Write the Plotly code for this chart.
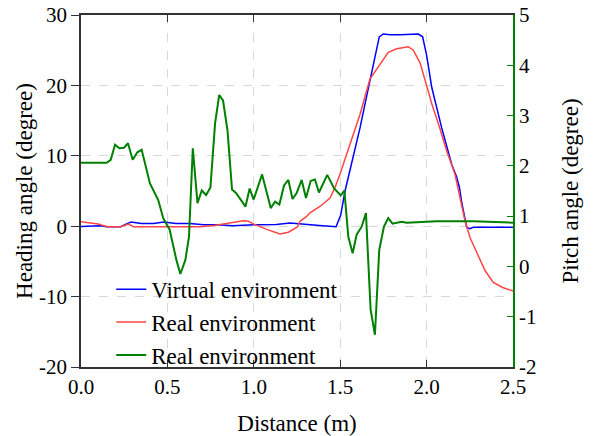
import plotly.graph_objects as go

# Heading angle (degree) vs distance (m)
virtual_x = [0.0, 0.11, 0.15, 0.23, 0.26, 0.29, 0.35, 0.42, 0.48, 0.55, 0.63, 0.71, 0.79, 0.88,
             1.0, 1.13, 1.21, 1.31, 1.38, 1.476, 1.503, 1.528, 1.557, 1.586, 1.615, 1.644, 1.672,
             1.701, 1.726, 1.749, 1.788, 1.846, 1.904, 1.952, 1.977, 2.0, 2.03, 2.058, 2.087,
             2.116, 2.145, 2.174, 2.19, 2.203, 2.222, 2.232, 2.251, 2.27, 2.5]
virtual_heading = [-0.05, 0.07, -0.07, -0.07, 0.3, 0.6, 0.4, 0.4, 0.6, 0.4, 0.4, 0.2, 0.2, 0.07,
                   0.2, 0.25, 0.45, 0.3, 0.1, -0.07, 1.6, 5.0, 7.9, 11.0, 14.0, 17.4, 20.7,
                   24.0, 26.9, 27.3, 27.2, 27.2, 27.3, 27.3, 26.9, 24.3, 19.7, 16.7, 14.0,
                   11.4, 8.8, 7.0, 5.5, 3.4, 0.9, -0.17, -0.35, -0.15, -0.15]

real_x = [0.0, 0.1, 0.15, 0.23, 0.274, 0.303, 0.5, 0.69, 0.77, 0.84, 0.94, 0.97, 1.0, 1.075,
          1.152, 1.2, 1.25, 1.267, 1.306, 1.325, 1.383, 1.441, 1.47, 1.499, 1.557, 1.615, 1.672,
          1.73, 1.778, 1.827, 1.894, 1.923, 1.962, 2.0, 2.03, 2.078, 2.116, 2.164, 2.193, 2.222,
          2.251, 2.29, 2.338, 2.386, 2.44, 2.5]
real_heading = [0.65, 0.3, -0.07, -0.07, 0.3, -0.07, -0.07, -0.07, 0.1, 0.35, 0.78, 0.7, 0.3, -0.45,
                -1.1, -0.85, -0.15, 0.7, 1.4, 1.9, 2.8, 4.0, 5.5, 7.4, 11.7, 15.9, 20.9,
                23.0, 24.7, 25.2, 25.5, 25.0, 23.2, 20.0, 17.4, 13.8, 10.7, 7.4, 4.1, 0.8,
                -1.6, -3.8, -6.3, -8.0, -8.7, -9.2]

# Pitch angle (degree) vs distance (m)
pitch_x = [0.0, 0.149, 0.172, 0.197, 0.222, 0.249, 0.272, 0.299, 0.326, 0.351, 0.399, 0.447,
           0.476, 0.513, 0.552, 0.575, 0.604, 0.625, 0.647, 0.674, 0.699, 0.724, 0.749, 0.776,
           0.800, 0.822, 0.848, 0.874, 0.897, 0.952, 0.976, 0.999, 1.048, 1.098, 1.123, 1.148,
           1.175, 1.200, 1.224, 1.248, 1.277, 1.302, 1.329, 1.354, 1.377, 1.425, 1.465, 1.503,
           1.524, 1.547, 1.572, 1.595, 1.624, 1.649, 1.676, 1.701, 1.726, 1.753, 1.778, 1.803,
           1.855, 1.885, 2.058, 2.27, 2.5]
real_pitch = [2.06, 2.06, 2.12, 2.42, 2.35, 2.36, 2.45, 2.12, 2.27, 2.32, 1.65, 1.32,
              0.96, 0.73, 0.13, -0.15, 0.13, 0.59, 2.35, 1.26, 1.51, 1.42, 1.57, 2.85,
              3.41, 3.30, 2.70, 1.53, 1.46, 1.19, 1.55, 1.33, 1.83, 1.16, 1.29, 1.23,
              1.61, 1.72, 1.34, 1.46, 1.72, 1.36, 1.70, 1.73, 1.47, 1.82, 1.55, 1.41,
              1.51, 0.59, 0.26, 0.63, 0.79, 1.06, -0.86, -1.36, 0.33, 0.79, 0.96, 0.85,
              0.89, 0.87, 0.90, 0.90, 0.87]

# Tick values and labels (plain hyphen for negatives)
heading_ticks = [-20, -10, 0, 10, 20, 30]
heading_labels = ["-20", "-10", "0", "10", "20", "30"]
pitch_ticks = [-2, -1, 0, 1, 2, 3, 4, 5]
pitch_labels = ["-2", "-1", "0", "1", "2", "3", "4", "5"]

FONT = "Liberation Serif, Times New Roman, serif"

fig = go.Figure()
fig.add_trace(go.Scatter(x=virtual_x, y=virtual_heading, mode="lines",
                         name="Virtual environment",
                         line=dict(color="#0000ff", width=1.5)))
fig.add_trace(go.Scatter(x=real_x, y=real_heading, mode="lines",
                         name="Real environment",
                         line=dict(color="#ff4545", width=1.5)))
fig.add_trace(go.Scatter(x=pitch_x, y=real_pitch, mode="lines",
                         name="Real environment", yaxis="y2",
                         line=dict(color="#008000", width=2)))

fig.update_layout(
    width=593, height=436,
    margin=dict(l=81, r=80, t=15, b=69),
    paper_bgcolor="white", plot_bgcolor="white",
    font=dict(family=FONT, size=21, color="black"),
    showlegend=True,
    legend=dict(x=0.07, xanchor="left", y=0.282, yanchor="top",
                bgcolor="rgba(0,0,0,0)", borderwidth=0,
                font=dict(family=FONT, size=23), tracegroupgap=0),
    xaxis=dict(range=[0, 2.5], dtick=0.5, tickformat=".1f", automargin=False,
               showline=True, linecolor="#333", linewidth=1.5, mirror="ticks",
               ticks="inside", ticklen=7, tickcolor="#333",
               showgrid=True, gridcolor="#d8d8d8", griddash="dash", gridwidth=1,
               zeroline=False,
               title=dict(text="Distance (m)", font=dict(family=FONT, size=23), standoff=17)),
    yaxis=dict(range=[-20, 30], tickvals=heading_ticks, ticktext=heading_labels, automargin=False,
               showline=True, linecolor="#333", linewidth=1.5,
               ticks="outside", ticklen=8, tickcolor="#333",
               showgrid=True, gridcolor="#d8d8d8", griddash="dash", gridwidth=1,
               zeroline=False,
               title=dict(text="Heading angle (degree)", font=dict(family=FONT, size=23), standoff=0)),
    yaxis2=dict(range=[-2, 5], tickvals=pitch_ticks, ticktext=pitch_labels,
                overlaying="y", side="right", automargin=False,
                showline=True, linecolor="#008000", linewidth=1.5,
                ticks="inside", ticklen=6, tickcolor="#008000",
                showgrid=False, zeroline=False,
                title=dict(text="Pitch angle (degree)", font=dict(family=FONT, size=23), standoff=26)),
)

fig.write_html("out.html")
